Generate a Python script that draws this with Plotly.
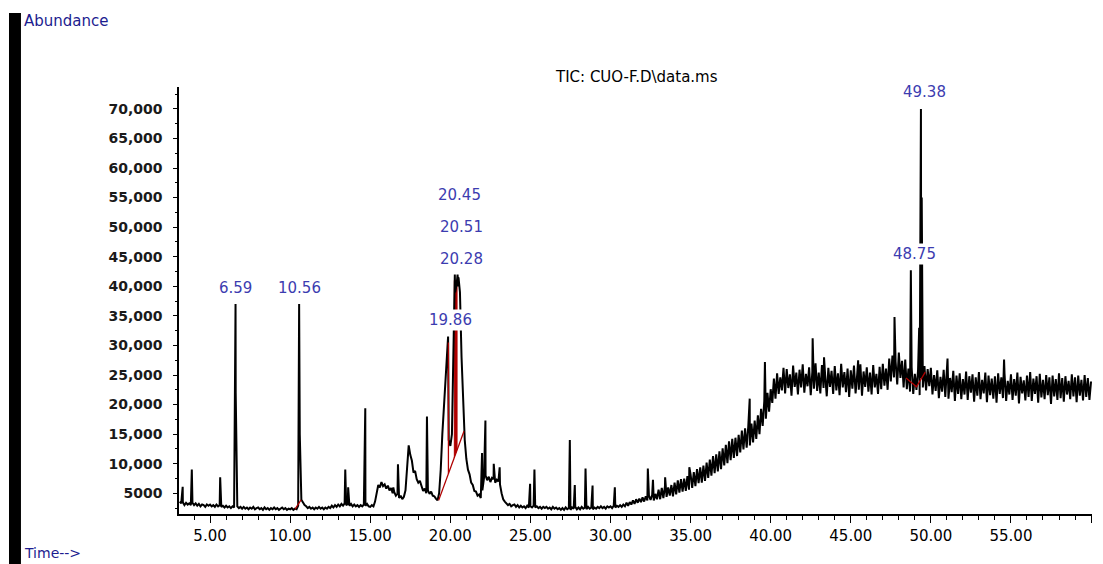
import plotly.graph_objects as go

# TIC scan grid (minutes) and abundance in thousands, one row per minute
scan_start = 3.1
scan_step = 0.1
abundance_k = [
    3.6, 3.3, 3.5, 3.0, 3.4, 3.1, 3.3, 3.0, 3.4,             # 3.1-3.9
    3.0, 3.3, 2.9, 3.2, 2.8, 3.1, 3.0, 2.7, 3.1, 2.9,        # 4
    3.1, 2.8, 3.0, 2.7, 3.1, 2.8, 3.0, 2.7, 2.9, 2.6,        # 5
    2.9, 2.6, 2.8, 2.5, 2.8, 2.6, 22.0, 2.8, 2.5, 2.7,       # 6
    2.4, 2.7, 2.4, 2.6, 2.3, 2.6, 2.4, 2.7, 2.3, 2.5,        # 7
    2.6, 2.3, 2.5, 2.2, 2.6, 2.3, 2.5, 2.2, 2.5, 2.3,        # 8
    2.6, 2.3, 2.5, 2.2, 2.4, 2.6, 2.3, 2.5, 2.2, 2.4,        # 9
    2.3, 2.5, 2.2, 2.4, 2.3, 2.9, 15.0, 3.9, 3.3, 3.0,       # 10
    2.8, 2.5, 2.7, 2.4, 2.6, 2.3, 2.6, 2.4, 2.7, 2.4,        # 11
    2.6, 2.3, 2.6, 2.4, 2.7, 2.5, 2.9, 2.6, 3.0, 2.7,        # 12
    3.1, 2.8, 3.2, 2.9, 3.3, 3.0, 3.2, 2.9, 3.2, 2.8,        # 13
    3.1, 2.8, 3.0, 2.7, 3.0, 2.8, 3.1, 2.9, 3.2, 2.8,        # 14
    2.7, 3.0, 2.8, 3.6, 5.0, 6.4, 6.0, 6.9, 6.2, 6.5,        # 15
    5.8, 6.3, 5.5, 5.9, 5.0, 5.2, 4.6, 4.9, 4.2, 4.6,        # 16
    4.0, 4.4, 5.5, 9.0, 13.1, 11.5, 10.5, 8.5, 8.8, 7.4,     # 17
    6.8, 7.1, 6.0, 5.4, 5.8, 5.0, 5.5, 4.9, 5.3, 4.6,        # 18
    4.5, 4.1, 3.8, 5.0, 9.0, 15.0, 19.5, 24.0, 29.0, 14.0,   # 19
    13.0, 15.0, 33.0, 39.0, 40.5, 40.0, 39.0, 28.0, 19.0, 14.0,  # 20
    10.8, 9.0, 8.2, 6.8, 6.4, 5.4, 5.3, 4.6, 4.8, 4.2,       # 21
    5.5, 7.5, 8.0, 7.2, 7.8, 6.9, 7.6, 7.4, 6.8, 7.3,        # 22
    7.0, 6.5, 5.0, 4.0, 3.6, 3.3, 3.0, 3.2, 2.8, 3.0,        # 23
    3.1, 2.7, 3.0, 2.6, 2.9, 2.6, 2.8, 2.5, 2.9, 2.6,        # 24
    2.8, 2.6, 2.9, 2.6, 2.8, 2.5, 2.7, 2.4, 2.7, 2.5,        # 25
    2.7, 2.4, 2.6, 2.3, 2.7, 2.4, 2.6, 2.3, 2.5, 2.2,        # 26
    2.5, 2.2, 2.6, 2.3, 2.5, 2.2, 2.6, 2.4, 2.7, 2.3,        # 27
    2.6, 2.3, 2.7, 2.4, 2.6, 2.3, 2.7, 2.4, 2.6, 2.3,        # 28
    2.6, 2.4, 2.7, 2.5, 2.8, 2.5, 2.7, 2.4, 2.8, 2.6,        # 29
    2.8, 2.5, 2.9, 2.6, 2.9, 2.7, 3.0, 2.7, 3.1, 2.8,        # 30
    3.4, 2.9, 3.5, 3.1, 3.8, 3.2, 4.0, 3.4, 4.1, 3.5,        # 31
    4.3, 3.6, 4.5, 3.8, 4.6, 3.9, 4.7, 3.8, 4.9, 4.0,        # 32
    5.6, 4.0, 5.9, 4.2, 6.2, 4.4, 6.0, 4.6, 6.4, 4.5,        # 33
    6.8, 4.8, 7.2, 5.1, 7.4, 5.3, 7.5, 5.4, 7.9, 5.6,        # 34
    8.2, 5.9, 8.6, 6.2, 9.1, 6.7, 9.4, 6.8, 9.7, 7.1,        # 35
    10.2, 7.6, 10.7, 8.0, 11.3, 8.4, 11.6, 8.7, 12.1, 9.1,   # 36
    12.6, 9.7, 13.2, 10.1, 13.8, 10.6, 14.2, 11.0, 14.4, 11.3,   # 37
    14.9, 11.9, 15.6, 12.4, 16.0, 12.7, 16.3, 13.1, 16.8, 13.6,  # 38
    17.3, 14.2, 18.2, 15.0, 19.3, 16.4, 20.6, 17.6, 22.0, 18.8,  # 39
    22.6, 20.3, 24.4, 21.0, 25.3, 21.8, 24.6, 22.4, 26.2, 21.9,  # 40
    26.0, 22.8, 25.1, 21.5, 26.6, 23.0, 25.4, 21.7, 25.9, 22.9,  # 41
    26.8, 22.0, 25.2, 23.1, 26.3, 21.6, 25.6, 22.7, 27.0, 22.3,  # 42
    25.4, 21.9, 26.7, 22.8, 25.0, 21.4, 26.2, 23.0, 25.7, 21.8,  # 43
    26.5, 22.4, 25.3, 21.6, 26.9, 22.9, 25.5, 22.1, 26.1, 21.3,  # 44
    25.8, 22.7, 26.6, 21.9, 25.1, 22.5, 26.8, 21.5, 25.6, 23.0,  # 45
    26.3, 22.2, 25.4, 21.7, 26.7, 22.9, 25.2, 21.8, 26.4, 22.6,  # 46
    26.9, 23.2, 26.1, 22.5, 27.8, 23.9, 28.3, 24.6, 27.2, 23.4,  # 47
    28.8, 24.5, 27.4, 22.9, 27.6, 22.6, 26.1, 22.2, 26.3, 21.8,  # 48
    25.2, 22.5, 25.8, 21.6, 24.5, 22.9, 26.5, 22.4, 26.0, 23.1,  # 49
    26.2, 21.7, 25.0, 22.3, 25.8, 21.1, 24.7, 22.2, 25.9, 21.3,  # 50
    25.4, 21.0, 24.5, 22.1, 25.7, 20.6, 24.9, 21.8, 25.3, 20.9,  # 51
    24.3, 21.7, 25.6, 20.8, 24.8, 22.0, 25.1, 20.5, 24.6, 21.5,  # 52
    25.5, 20.9, 24.2, 21.9, 25.4, 20.4, 24.9, 21.6, 24.4, 21.0,  # 53
    24.8, 20.3, 25.3, 21.8, 24.6, 21.1, 25.2, 20.6, 24.0, 21.7,  # 54
    25.1, 20.8, 24.3, 21.5, 25.4, 20.2, 24.7, 21.9, 24.1, 20.7,  # 55
    24.9, 21.3, 25.5, 20.6, 24.4, 21.8, 24.8, 20.3, 25.2, 21.2,  # 56
    24.2, 20.9, 25.0, 21.6, 24.6, 20.1, 24.9, 21.4, 24.3, 20.8,  # 57
    25.3, 21.1, 24.5, 20.5, 24.8, 21.7, 24.0, 20.9, 25.1, 21.4,  # 58
    24.6, 20.4, 24.9, 21.5, 24.2, 20.7, 25.0, 21.3, 24.5, 20.8,  # 59
    23.9,                                                         # 60
]

# sharp peaks (apex time, apex abundance in thousands)
peak_times = [3.29, 3.86, 5.63, 6.59, 10.56, 13.44, 13.62, 14.69, 16.44, 16.73,
              18.54, 19.86, 20.28, 20.45, 20.51, 21.98, 22.19, 22.71, 23.08, 24.98,
              25.25, 27.46, 27.77, 28.44, 28.88, 30.27, 32.33, 32.65, 33.41, 34.92,
              38.69, 39.64, 42.62, 43.33, 45.46, 47.73, 48.75, 49.27, 49.38, 49.43,
              51.04, 54.57]
peak_heights_k = [6.1, 9.0, 7.7, 37.0, 37.0, 9.0, 6.0, 19.4, 6.0, 9.9,
                  18.0, 31.5, 42.0, 42.0, 41.5, 11.8, 17.3, 10.0, 9.4, 6.6,
                  9.0, 14.0, 6.4, 9.2, 6.3, 6.0, 9.2, 7.3, 7.7, 9.4,
                  21.0, 27.2, 31.2, 28.0, 27.5, 34.8, 42.7, 33.0, 70.0, 55.0,
                  27.8, 27.6]

# integrator baselines (red)
base1_t, base1_k = [10.30, 10.68], [2.3, 3.9]
base2_t, base2_k = [19.27, 20.85], [3.8, 15.5]
base3_t, base3_k = [48.45, 49.10, 49.65], [24.5, 23.0, 25.5]
drop_t, drop_k = [19.88, 19.88], [8.3, 30.5]
fill_t, fill_k = [20.25, 20.25, 20.42, 20.42], [11.0, 41.0, 41.0, 12.3]

# labelled peaks
label_text = ["6.59", "10.56", "19.86", "20.28", "20.51", "20.45", "48.75", "49.38"]
label_x = [6.56, 10.57, 20.03, 20.68, 20.68, 20.56, 49.0, 49.58]
label_y_k = [39.7, 39.7, 34.3, 44.7, 50.0, 55.4, 45.4, 72.9]

ytick_values = [5000, 10000, 15000, 20000, 25000, 30000, 35000, 40000,
                45000, 50000, 55000, 60000, 65000, 70000]
ytick_labels = ["5000", "10,000", "15,000", "20,000", "25,000", "30,000", "35,000",
                "40,000", "45,000", "50,000", "55,000", "60,000", "65,000", "70,000"]

# merge scan grid with peak apexes
points = {round(scan_start + i * scan_step, 2): v for i, v in enumerate(abundance_k)}
for t, v in zip(peak_times, peak_heights_k):
    points[t] = max(v, points.get(t, 0))
times = sorted(points)
abundance = [points[t] * 1000 for t in times]


def k(vals):
    return [v * 1000 for v in vals]


RED = "#b00000"
fig = go.Figure()
fig.add_trace(go.Scatter(x=fill_t, y=k(fill_k), fill="toself", fillcolor=RED,
                         mode="lines", line=dict(color=RED, width=1), hoverinfo="skip"))
fig.add_trace(go.Scatter(x=times, y=abundance, mode="lines",
                         line=dict(color="black", width=2)))
for bt, bk in [(base1_t, base1_k), (base2_t, base2_k), (base3_t, base3_k), (drop_t, drop_k)]:
    fig.add_trace(go.Scatter(x=bt, y=k(bk), mode="lines",
                             line=dict(color=RED, width=1.3), hoverinfo="skip"))

for txt, lx, ly in zip(label_text, label_x, label_y_k):
    fig.add_annotation(x=lx, y=ly * 1000, text=txt, showarrow=False,
                       font=dict(family="DejaVu Sans", size=15, color="#3c3cb0"),
                       bgcolor="white", borderpad=1)

fig.add_annotation(xref="paper", yref="paper", x=0.5016, y=1.024, yanchor="middle",
                   text="TIC: CUO-F.D\\data.ms", showarrow=False,
                   font=dict(family="DejaVu Sans", size=15, color="black"))
fig.add_annotation(xref="paper", yref="paper", x=-0.172, y=1.155, xanchor="left",
                   yanchor="middle", text="Abundance", showarrow=False,
                   font=dict(family="DejaVu Sans", size=15, color="#1c1c8f"))
fig.add_annotation(xref="paper", yref="paper", x=-0.172, y=-0.0925, xanchor="left",
                   yanchor="middle", text="Time-->", showarrow=False,
                   font=dict(family="DejaVu Sans", size=14, color="#1c1c8f"))
fig.add_shape(type="rect", xref="paper", yref="paper", x0=-0.1862, x1=-0.1731,
              y0=-0.117, y1=1.1733, fillcolor="black", line=dict(width=0))

fig.update_xaxes(range=[3.06, 60.06], tickmode="linear", tick0=5, dtick=5, tickformat=".2f",
                 ticks="outside", ticklen=7, tickcolor="black", showline=True,
                 linecolor="black", linewidth=1.5, showgrid=False, zeroline=False,
                 minor=dict(ticks="outside", ticklen=4, dtick=1, tick0=0, tickcolor="black"),
                 tickfont=dict(family="DejaVu Sans", size=15, color="black"))
fig.update_yaxes(range=[1500, 73700], tickmode="array", tickvals=ytick_values,
                 ticktext=ytick_labels, ticks="outside", ticklen=4, tickcolor="black",
                 showline=True, linecolor="black", linewidth=1.5, showgrid=False,
                 zeroline=False, ticklabelstandoff=8,
                 minor=dict(ticks="outside", ticklen=2, tickmode="linear", tick0=0,
                            dtick=2500, tickcolor="black"),
                 tickfont=dict(family="DejaVu Sans", size=14, color="#1a1a1a", weight="bold"))

fig.update_layout(width=1103, height=564, showlegend=False,
                  margin=dict(l=179, r=11, t=87, b=50),
                  paper_bgcolor="white", plot_bgcolor="white")

fig.write_html("out.html", config={"displayModeBar": False},
               post_script="document.body.style.margin='0';")
